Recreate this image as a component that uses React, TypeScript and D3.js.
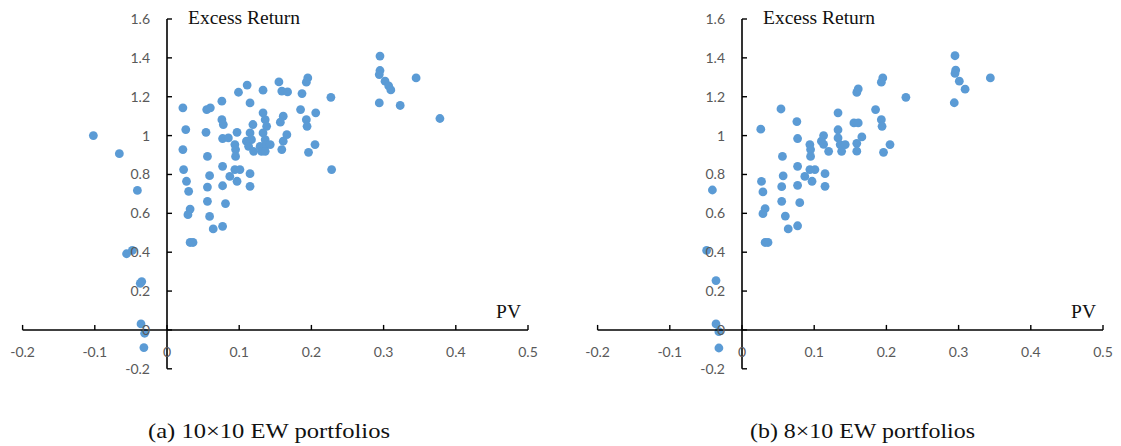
import React from "react";
import * as d3 from "d3";

// panel (a) 10x10 EW portfolios
const pvA = [
  -0.102, -0.066, -0.041, -0.056, -0.048, -0.035, -0.037, -0.036, -0.031, -0.032,
  0.022, 0.026, 0.022, 0.023, 0.027, 0.03, 0.032, 0.029, 0.032, 0.036,
  0.055, 0.06, 0.054, 0.056, 0.059, 0.056, 0.056, 0.059, 0.064,
  0.076, 0.076, 0.078, 0.077, 0.077, 0.077, 0.081, 0.077,
  0.099, 0.097, 0.085, 0.094, 0.095, 0.095, 0.094, 0.101, 0.087, 0.097,
  0.111, 0.115, 0.119, 0.115, 0.117, 0.11, 0.113, 0.12, 0.115, 0.115,
  0.133, 0.133, 0.136, 0.138, 0.133, 0.136, 0.129, 0.131, 0.138, 0.143, 0.136,
  0.155, 0.159, 0.167, 0.161, 0.157, 0.166, 0.161, 0.159,
  0.187, 0.195, 0.193, 0.227, 0.185, 0.206, 0.193, 0.194, 0.205, 0.196, 0.228,
  0.295, 0.295, 0.294, 0.302, 0.307, 0.31, 0.345, 0.294, 0.323, 0.378,
];
const erA = [
  1.0, 0.907, 0.718, 0.392, 0.409, 0.249, 0.24, 0.031, -0.017, -0.091,
  1.143, 1.031, 0.928, 0.825, 0.765, 0.713, 0.622, 0.593, 0.45, 0.45,
  1.134, 1.143, 1.017, 0.893, 0.794, 0.735, 0.662, 0.584, 0.52,
  1.177, 1.082, 1.057, 0.985, 0.842, 0.742, 0.65, 0.533,
  1.223, 1.017, 0.988, 0.954, 0.928, 0.893, 0.825, 0.825, 0.79, 0.765,
  1.26, 1.168, 1.057, 1.014, 0.979, 0.971, 0.945, 0.919, 0.804, 0.739,
  1.234, 1.117, 1.082, 1.048, 1.014, 0.979, 0.945, 0.919, 0.954, 0.954, 0.919,
  1.276, 1.229, 1.225, 1.1, 1.069, 1.005, 0.971, 0.928,
  1.216, 1.297, 1.275, 1.197, 1.134, 1.117, 1.082, 1.048, 0.954, 0.914, 0.825,
  1.409, 1.335, 1.314, 1.28, 1.256, 1.235, 1.297, 1.168, 1.155, 1.088,
];

// panel (b) 8x10 EW portfolios
const pvB = [
  -0.041, -0.049, -0.036, -0.036, -0.032, -0.032,
  0.026, 0.027, 0.029, 0.032, 0.029, 0.032, 0.036,
  0.054, 0.056, 0.057, 0.055, 0.055, 0.06, 0.064,
  0.076, 0.077, 0.077, 0.077, 0.08, 0.077,
  0.094, 0.095, 0.095, 0.094, 0.101, 0.087, 0.097,
  0.113, 0.11, 0.113, 0.12, 0.115, 0.115,
  0.133, 0.133, 0.133, 0.136, 0.138, 0.143,
  0.159, 0.161, 0.155, 0.161, 0.166, 0.159, 0.159,
  0.195, 0.193, 0.227, 0.185, 0.193, 0.194, 0.205, 0.196,
  0.295, 0.296, 0.295, 0.301, 0.309, 0.344, 0.294,
];
const erB = [
  0.72, 0.409, 0.254, 0.031, -0.009, -0.093,
  1.033, 0.764, 0.71, 0.624, 0.598, 0.45, 0.45,
  1.137, 0.893, 0.793, 0.737, 0.662, 0.586, 0.52,
  1.072, 0.985, 0.842, 0.744, 0.655, 0.536,
  0.954, 0.928, 0.893, 0.825, 0.825, 0.79, 0.765,
  1.0, 0.971, 0.955, 0.919, 0.804, 0.739,
  1.117, 1.03, 0.988, 0.954, 0.919, 0.954,
  1.222, 1.24, 1.065, 1.065, 0.993, 0.96, 0.92,
  1.297, 1.275, 1.197, 1.134, 1.082, 1.048, 0.954, 0.914,
  1.411, 1.337, 1.32, 1.28, 1.239, 1.297, 1.169,
];

const xTicks = [-0.2, -0.1, 0, 0.1, 0.2, 0.3, 0.4, 0.5];
const yTicks = [-0.2, 0, 0.2, 0.4, 0.6, 0.8, 1, 1.2, 1.4, 1.6];
const captions = ["(a) 10×10 EW portfolios", "(b) 8×10 EW portfolios"];

const W = 1121;
const H = 446;
const dotColor = "#5b9bd5";
const tickFont = "Lato, 'Open Sans', sans-serif";
const serif = "'Liberation Serif', 'Times New Roman', serif";

type PanelProps = {
  xs: number[];
  ys: number[];
  originX: number;
  caption: string;
  capX: number;
  capW: number;
};

const Panel = ({ xs, ys, originX, caption, capX, capW }: PanelProps) => {
  const x = d3.scaleLinear().domain([-0.2, 0.5]).range([originX - 144.4, originX + 361]);
  const y = d3.scaleLinear().domain([-0.2, 1.6]).range([368.8, 19]);
  const x0 = x(0);
  const y0 = y(0);
  // excel style labels, plain hyphen for minus
  const fmt = (v: number) => String(+v.toFixed(1));

  return (
    <g>
      {xs.map((v, i) => (
        <circle key={i} cx={x(v)} cy={y(ys[i])} r={4.4} fill={dotColor} />
      ))}

      {/* axes */}
      <line x1={x(-0.2)} x2={x(0.5)} y1={y0} y2={y0} stroke="#000" strokeWidth={1.6} />
      <line x1={x0} x2={x0} y1={y(-0.2)} y2={y(1.6)} stroke="#000" strokeWidth={1.6} />
      {xTicks.map((t) => (
        <g key={"x" + t}>
          <line x1={x(t)} x2={x(t)} y1={y0} y2={y0 - 5} stroke="#000" strokeWidth={1.4} />
          <text
            x={x(t)}
            y={y0 + 27}
            textAnchor="middle"
            fontFamily={tickFont}
            fontSize={14}
            fill="#595959"
          >
            {fmt(t)}
          </text>
        </g>
      ))}
      {yTicks.map((t) => (
        <g key={"y" + t}>
          <line x1={x0} x2={x0 + 5} y1={y(t)} y2={y(t)} stroke="#000" strokeWidth={1.4} />
          <text
            x={x0 - 17}
            y={y(t) + 5}
            textAnchor="end"
            fontFamily={tickFont}
            fontSize={14}
            fill="#595959"
          >
            {fmt(t)}
          </text>
        </g>
      ))}

      <text x={x0 + 21} y={y(1.6) + 5} fontFamily={serif} fontSize={19.5} fill="#111">
        Excess Return
      </text>
      <text x={x(0.5) - 7} y={y0 - 12} textAnchor="end" fontFamily={serif} fontSize={19.5} fill="#111">
        PV
      </text>
      <text
        x={capX}
        y={438}
        fontFamily={serif}
        fontSize={21}
        fill="#111"
        textLength={capW}
        lengthAdjust="spacingAndGlyphs"
      >
        {caption}
      </text>
    </g>
  );
};

export default function App() {
  return (
    <svg
      width={W}
      height={H}
      style={{ position: "absolute", left: 0, top: 0, background: "#fff" }}
    >
      <rect width={W} height={H} fill="#fff" />
      <Panel xs={pvA} ys={erA} originX={167} caption={captions[0]} capX={148} capW={242} />
      <Panel xs={pvB} ys={erB} originX={742} caption={captions[1]} capX={750} capW={225} />
    </svg>
  );
}
